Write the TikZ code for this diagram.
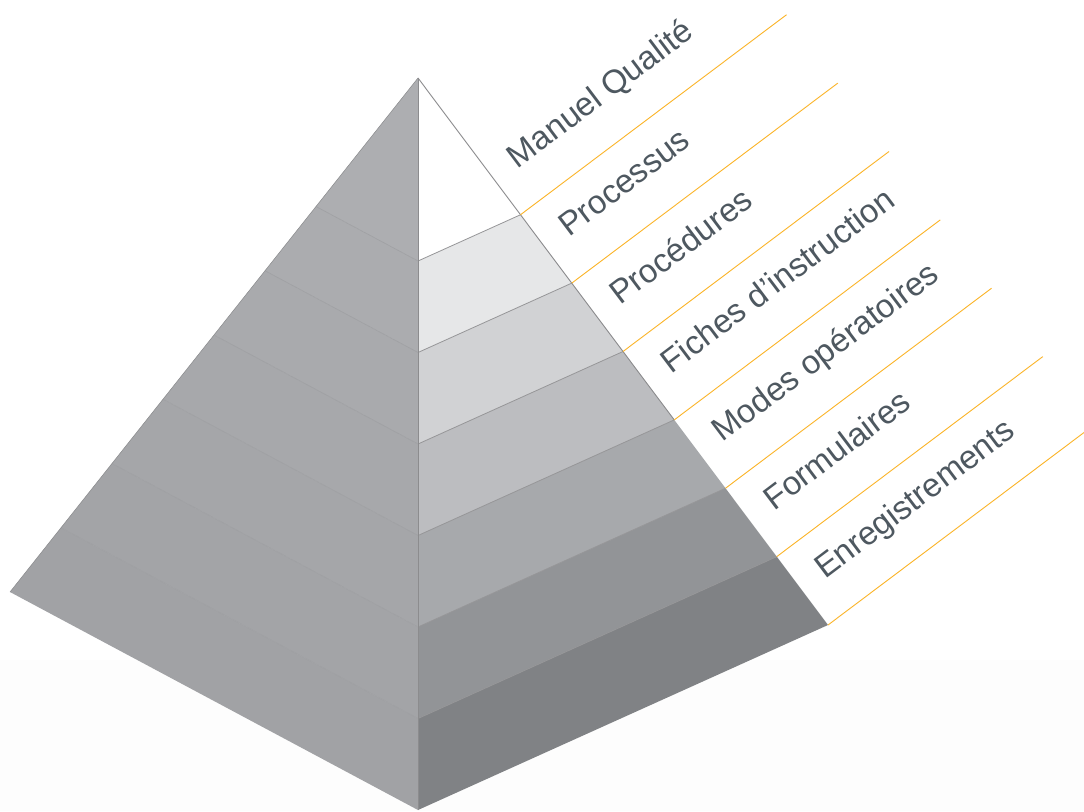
\documentclass[tikz,border=0pt]{standalone}
\usepackage{fontspec}
\setmainfont{Liberation Sans}
\usetikzlibrary{calc}
\definecolor{txt}{RGB}{78,88,96}
\definecolor{gold}{RGB}{251,180,40}
\definecolor{fA}{RGB}{255,255,255}
\definecolor{fB}{RGB}{230,231,232}
\definecolor{fC}{RGB}{209,210,212}
\definecolor{fD}{RGB}{188,189,192}
\definecolor{fE}{RGB}{167,169,172}
\definecolor{fF}{RGB}{146,148,151}
\definecolor{fG}{RGB}{128,130,133}
\definecolor{lA}{RGB}{173,174,177}
\definecolor{lB}{RGB}{171,172,175}
\definecolor{lC}{RGB}{169,170,173}
\definecolor{lD}{RGB}{167,168,171}
\definecolor{lE}{RGB}{165,166,169}
\definecolor{lF}{RGB}{163,164,167}
\definecolor{lG}{RGB}{161,162,165}
\definecolor{edge}{RGB}{140,140,142}
\definecolor{divline}{RGB}{150,150,152}
\definecolor{ldiv}{RGB}{158,159,162}
\begin{document}
\begin{tikzpicture}[x=1pt,y=-1pt,
  lbl/.style={anchor=base west, rotate=37, text=txt, inner sep=0pt,
    font=\fontsize{33}{35}\selectfont},
  leader/.style={draw=gold, line width=0.9pt},
  pedge/.style={draw=edge, line width=0.9pt},
  fdiv/.style={draw=divline, line width=0.8pt},
  ldivst/.style={draw=ldiv, line width=0.6pt}]
\useasboundingbox (0,0) rectangle (1084,811);
\fill[white] (0,0) rectangle (1084,811);
\fill[black!0.7] (0,660) rectangle (1084,811);
\coordinate (A) at (418,78);
\coordinate (R) at (828,625);
\coordinate (B) at (418,810);
\coordinate (L) at (10,592);
\foreach \i/\t in {0/0,1/0.25,2/0.375,3/0.5,4/0.625,5/0.75,6/0.875,7/1}{
  \coordinate (R\i) at ($(A)!\t!(R)$);
  \coordinate (C\i) at ($(A)!\t!(B)$);
  \coordinate (L\i) at ($(A)!\t!(L)$);
}
% left face bands
\foreach \i/\j/\c in {1/0/lA,2/1/lB,3/2/lC,4/3/lD,5/4/lE,6/5/lF,7/6/lG}{
  \fill[\c] (C\j) -- (L\j) -- (L\i) -- (C\i) -- cycle;
}
% front face bands
\foreach \i/\j/\c in {1/0/fA,2/1/fB,3/2/fC,4/3/fD,5/4/fE,6/5/fF,7/6/fG}{
  \fill[\c] (C\j) -- (R\j) -- (R\i) -- (C\i) -- cycle;
}
% left face division lines
\foreach \i in {1,...,6}{
  \draw[ldivst] (C\i) -- (L\i);
}
% front face division lines
\foreach \i in {1,...,6}{
  \draw[fdiv] (C\i) -- (R\i);
}
% edges
\draw[draw=lG!85!black, line width=0.5pt] (A) -- (L);
\draw[pedge] (A) -- (B);
\draw[pedge] (A) -- (R4);
% leader lines
\foreach \i in {1,...,7}{
  \draw[leader] (R\i) -- ++(266,-200);
}
% labels
\node[lbl] (t1) at ($(R1)+(-2.9,-45.4)$) {Manuel Qualité};
\node[lbl] (t2) at ($(R2)+(-2.9,-45.4)$) {Processus};
\node[lbl] (t3) at ($(R3)+(-2.9,-45.4)$) {Procédures};
\node[lbl] (t4) at ($(R4)+(-2.9,-45.4)$) {Fiches d’instruction};
\node[lbl] (t5) at ($(R5)+(-2.9,-45.4)$) {Modes opératoires};
\node[lbl] (t6) at ($(R6)+(-2.9,-45.4)$) {Formulaires};
\node[lbl] (t7) at ($(R7)+(-2.9,-45.4)$) {Enregistrements};
\end{tikzpicture}
\end{document}
